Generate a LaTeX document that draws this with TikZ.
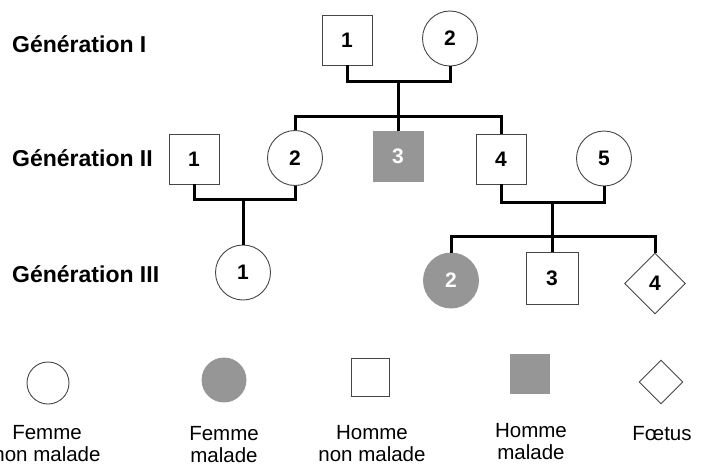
\documentclass[tikz,border=0pt]{standalone}
\usepackage{fontspec}
\setmainfont{Liberation Sans}
\usetikzlibrary{shapes.geometric}
\definecolor{sick}{RGB}{150,150,150}
\definecolor{edgec}{RGB}{70,70,70}
\begin{document}
\begin{tikzpicture}[x=1pt,y=-1pt,
  num/.style={font=\fontsize{21}{25}\selectfont\bfseries},
  sq/.style={num,draw=edgec,line width=0.9pt,fill=white,rectangle,minimum size=50pt,inner sep=0pt},
  ci/.style={num,draw=edgec,line width=0.9pt,fill=white,circle,minimum size=55pt,inner sep=0pt},
  dia/.style={num,draw=edgec,line width=0.9pt,fill=white,diamond,minimum size=61pt,inner sep=0pt},
  ill/.style={fill=sick,draw=sick,text=white},
  link/.style={line width=3pt,draw=black},
  gen/.style={font=\fontsize{23}{27}\selectfont\bfseries,anchor=base west,inner sep=0pt},
  leg/.style={font=\fontsize{20.5}{22}\selectfont,align=center,inner sep=0pt}]
\useasboundingbox (0,0) rectangle (704,466);

% generation labels
\node[gen] (lab1) at (12,52) {Génération I};
\node[gen] (lab2) at (12,166) {Génération II};
\node[gen] (lab3) at (12,282) {Génération III};

% generation I
\node[sq] (g1a) at (347,40) {1};
\node[ci] (g1b) at (450,38.5) {2};
% generation II
\node[sq] (g2a) at (194,159) {1};
\node[ci] (g2b) at (295,158) {2};
\node[sq,ill] (g2c) at (398,156) {3};
\node[sq] (g2d) at (501,159) {4};
\node[ci] (g2e) at (604,158.5) {5};
% generation III
\node[ci] (g3a) at (243,272.5) {1};
\node[ci,ill] (g3b) at (451,280.5) {2};
\node[sq,minimum size=52pt] (g3c) at (552,278.5) {3};
\node[dia] (g3d) at (655,283.5) {4};

% junction points
\coordinate (m1) at (398,81);
\coordinate (s1) at (398,116);
\coordinate (m2) at (243,199);
\coordinate (m3) at (552,202);
\coordinate (s3) at (552,236);

% connectors
\draw[link] (g1a.south) |- (m1) -| (g1b.south);
\draw[link] (m1) -- (s1);
\draw[link] (g2b.north) |- (s1) -| (g2d.north);
\draw[link] (s1) -- (g2c.north);
\draw[link] (g2a.south) |- (m2) -| (g2b.south);
\draw[link] (m2) -- (g3a.north);
\draw[link] (g2d.south) |- (m3) -| (g2e.south);
\draw[link] (m3) -- (s3);
\draw[link] (g3b.north) |- (s3) -| (g3d.north);
\draw[link] (s3) -- (g3c.north);

% legend
\node[ci,minimum size=42pt] (k1) at (48,383) {};
\node[ci,ill,minimum size=44pt] (k2) at (224,380) {};
\node[sq,minimum size=38pt] (k3) at (370,377) {};
\node[sq,ill,minimum size=39pt] (k4) at (530,374) {};
\node[dia,minimum size=44pt] (k5) at (661,382) {};

\node[leg] (t1) at (47,443.5) {Femme\\non malade};
\node[leg] (t2) at (224,444.5) {Femme\\malade};
\node[leg] (t3) at (372,443.5) {Homme\\non malade};
\node[leg] (t4) at (531,442) {Homme\\malade};
\node[leg] (t5) at (662,434) {Fœtus};
\end{tikzpicture}
\end{document}
